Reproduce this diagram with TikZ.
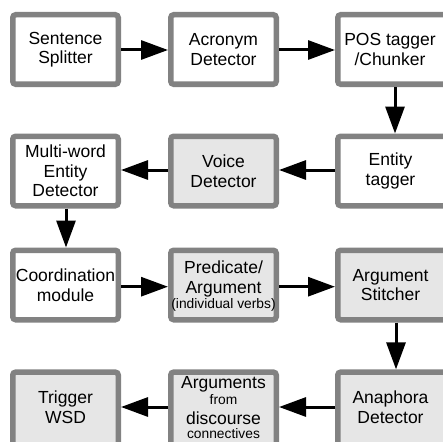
\documentclass[tikz,border=0pt]{standalone}
\usepackage{fontspec}
\setmainfont{Liberation Sans}
\usetikzlibrary{arrows.meta}
\definecolor{boxborder}{RGB}{130,130,130}
\definecolor{boxgray}{RGB}{230,230,230}
\tikzset{
  stage/.style={draw=boxborder, line width=5.5pt, rounded corners=3pt,
    minimum width=105.5pt, minimum height=69.5pt, inner sep=0pt, fill=white},
  shaded/.style={stage, fill=boxgray},
  wide/.style={minimum width=114.5pt},
  tall/.style={minimum height=77.2pt},
  txt/.style={inner sep=0pt, align=center, font=\fontsize{17.5}{19.5}\selectfont},
  flow/.style={line width=3pt, -{Triangle[length=27pt,width=19pt]}}
}
\newcommand{\smalltxt}[1]{{\fontsize{13.8}{14}\selectfont #1}}
\begin{document}
\begin{tikzpicture}[x=1pt,y=-1pt]
\useasboundingbox (0,0) rectangle (443,441);
% boxes
\node[stage] (ss) at (65.5,49.5) {};
\node[stage] (ad) at (223.5,49.5) {};
\node[stage, wide] (pos) at (395,49.5) {};
\node[stage] (mw) at (65.5,171) {};
\node[shaded] (vd) at (223.5,171) {};
\node[stage, wide] (et) at (395,171) {};
\node[stage] (cm) at (65.5,285) {};
\node[shaded] (pa) at (223.5,285) {};
\node[shaded, wide] (as) at (395,285) {};
\node[shaded, tall] (tw) at (65.5,410.7) {};
\node[shaded, tall] (dc) at (223.5,410.7) {};
\node[shaded, wide, tall] (an) at (395,410.7) {};
% texts
\node[txt] (ss-t) at (65.5,49.5) {Sentence\\Splitter};
\node[txt] (ad-t) at (223.5,49.5) {Acronym\\Detector};
\node[txt] (pos-t) at (390,49.5) {POS tagger\\/Chunker};
\node[txt] (mw-t) at (65.5,171) {Multi-word\\Entity\\Detector};
\node[txt] (vd-t) at (223.5,171) {Voice\\Detector};
\node[txt] (et-t) at (390.5,171) {Entity\\tagger};
\node[txt] (cm-t) at (65.5,285) {Coordination\\module};
\node[txt] (pa-t) at (223.5,286) {Predicate/\\Argument\\[-4.5pt]\smalltxt{(individual verbs)}};
\node[txt] (as-t) at (390.5,285) {Argument\\Stitcher};
\node[txt] (tw-t) at (65.5,407) {Trigger\\WSD};
\node[txt] (dc-t) at (223.5,407.5) {Arguments\\[-3pt]\smalltxt{from}\\[0pt]discourse\\[-5.5pt]\smalltxt{connectives}};
\node[txt] (an-t) at (390.5,407) {Anaphora\\Detector};
% connectors
\draw[flow] ([yshift=-0.5pt]ss.east) -- ([yshift=-0.5pt]ad.west);
\draw[flow] ([yshift=-0.5pt]ad.east) -- ([yshift=-0.5pt]pos.west);
\draw[flow] (pos.south) -- (et.north);
\draw[flow] ([yshift=1pt]et.west) -- ([yshift=1pt]vd.east);
\draw[flow] ([yshift=1pt]vd.west) -- ([yshift=1pt]mw.east);
\draw[flow] ([xshift=0.5pt]mw.south) -- ([xshift=0.5pt]cm.north);
\draw[flow] ([yshift=-1.7pt]cm.east) -- ([yshift=-1.7pt]pa.west);
\draw[flow] ([yshift=-1.7pt]pa.east) -- ([yshift=-1.7pt]as.west);
\draw[flow] ([xshift=1pt]as.south) -- ([xshift=1pt]an.north);
\draw[flow] ([yshift=3.7pt]an.west) -- ([yshift=3.7pt]dc.east);
\draw[flow] ([yshift=3.7pt]dc.west) -- ([yshift=3.7pt]tw.east);
\end{tikzpicture}
\end{document}
